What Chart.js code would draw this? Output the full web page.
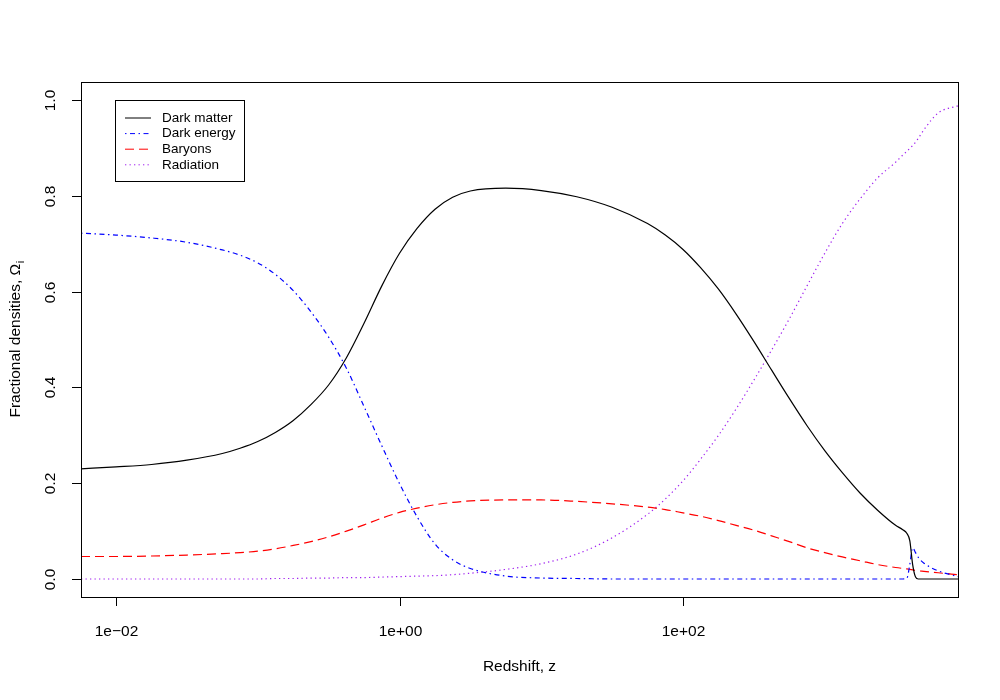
<!DOCTYPE html>
<html>
<head>
<meta charset="utf-8">
<script src="https://cdn.jsdelivr.net/npm/chart.js@4"></script>
<style>
  body { margin: 0; background: #fff; }
  canvas { display: block; }
</style>
</head>
<body>
<canvas id="myChart" width="1000" height="700"></canvas>
<script>
// redshift values (log spaced)
var redshift = [0.00566, 0.01, 0.0178, 0.0316, 0.0562, 0.075, 0.1, 0.133, 0.178, 0.237,
  0.316, 0.422, 0.562, 0.75, 1, 1.33, 1.78, 2.37, 3.16, 5.62,
  10, 17.8, 31.6, 56.2, 75, 100, 133, 178, 237, 316,
  422, 562, 750, 1000, 1330, 1780, 2370, 3160, 3550, 3800,
  3980, 4170, 4370, 4570, 5010, 6310, 8710];

var darkMatter = [0.230, 0.234, 0.239, 0.248, 0.262, 0.273, 0.287, 0.306, 0.331, 0.364,
  0.405, 0.462, 0.534, 0.612, 0.680, 0.732, 0.772, 0.797, 0.810, 0.816,
  0.811, 0.798, 0.776, 0.742, 0.718, 0.688, 0.650, 0.605, 0.553, 0.496,
  0.436, 0.377, 0.320, 0.268, 0.222, 0.179, 0.143, 0.112, 0.103, 0.095,
  0.080, 0.030, 0.004, 0.0, 0.0, 0.0, 0.0];

var darkEnergy = [0.722, 0.718, 0.712, 0.703, 0.687, 0.676, 0.660, 0.636, 0.602, 0.558,
  0.505, 0.440, 0.360, 0.278, 0.199, 0.130, 0.073, 0.040, 0.022, 0.006,
  0.002, 0.001, 0.0, 0.0, 0.0, 0.0, 0.0, 0.0, 0.0, 0.0,
  0.0, 0.0, 0.0, 0.0, 0.0, 0.0, 0.0, 0.0, 0.0, 0.002,
  0.030, 0.065, 0.055, 0.045, 0.033, 0.017, 0.005];

var baryons = [0.047, 0.047, 0.048, 0.050, 0.053, 0.055, 0.058, 0.063, 0.070, 0.078,
  0.088, 0.100, 0.113, 0.127, 0.139, 0.148, 0.155, 0.160, 0.163, 0.165,
  0.165, 0.162, 0.157, 0.150, 0.145, 0.138, 0.131, 0.122, 0.112, 0.102,
  0.090, 0.078, 0.065, 0.055, 0.046, 0.038, 0.030, 0.024, 0.022, 0.021,
  0.020, 0.019, 0.018, 0.017, 0.016, 0.013, 0.009];

var radiation = [0.0, 0.0, 0.0, 0.0, 0.0, 0.0, 0.0, 0.001, 0.001, 0.002,
  0.002, 0.003, 0.003, 0.004, 0.005, 0.006, 0.007, 0.009, 0.012, 0.020,
  0.032, 0.052, 0.086, 0.135, 0.167, 0.205, 0.250, 0.300, 0.355, 0.415,
  0.478, 0.543, 0.612, 0.680, 0.742, 0.794, 0.838, 0.870, 0.885, 0.893,
  0.899, 0.905, 0.912, 0.920, 0.938, 0.973, 0.988];

var xTicks = [0.01, 1, 100];
var xTickLabels = ['1e\u221202', '1e+00', '1e+02'];
var yTicks = [0, 0.2, 0.4, 0.6, 0.8, 1.0];
var yTickLabels = ['0.0', '0.2', '0.4', '0.6', '0.8', '1.0'];

var seriesNames = ['Dark matter', 'Dark energy', 'Baryons', 'Radiation'];
var seriesColors = ['#000000', '#0000ff', '#ff0000', '#a020f0'];
var seriesDash = [[], [1.5, 3.5, 5, 3.5], [9, 5], [1.3, 3.2]];
var seriesValues = [darkMatter, darkEnergy, baryons, radiation];

function toPoints(vals) {
  return vals.map(function(v, i) { return { x: redshift[i], y: v }; });
}

var FONT = '"Liberation Sans", Arial, Helvetica, sans-serif';

// draws the R style box, axes, labels and legend
var baseAxes = {
  id: 'baseAxes',
  afterDraw: function(chart) {
    var ctx = chart.ctx;
    var a = chart.chartArea;
    var xs = chart.scales.x, ys = chart.scales.y;
    ctx.save();
    ctx.strokeStyle = '#000';
    ctx.lineWidth = 1;
    ctx.setLineDash([]);
    ctx.strokeRect(Math.round(a.left) + 0.5, Math.round(a.top) + 0.5,
      Math.round(a.right - a.left), Math.round(a.bottom - a.top));

    ctx.fillStyle = '#000';
    ctx.font = '15.5px ' + FONT;

    // x axis
    ctx.textAlign = 'center';
    ctx.textBaseline = 'middle';
    xTicks.forEach(function(t, i) {
      var px = Math.round(xs.getPixelForValue(t)) + 0.5;
      ctx.beginPath();
      ctx.moveTo(px, a.bottom);
      ctx.lineTo(px, a.bottom + 9);
      ctx.stroke();
      ctx.fillText(xTickLabels[i], px, 632);
    });
    ctx.fillText('Redshift, z', (a.left + a.right) / 2, 667);

    // y axis
    yTicks.forEach(function(t, i) {
      var py = Math.round(ys.getPixelForValue(t)) + 0.5;
      ctx.beginPath();
      ctx.moveTo(a.left, py);
      ctx.lineTo(a.left - 9, py);
      ctx.stroke();
      ctx.save();
      ctx.translate(51, py);
      ctx.rotate(-Math.PI / 2);
      ctx.fillText(yTickLabels[i], 0, 0);
      ctx.restore();
    });

    // y title with subscript
    ctx.save();
    ctx.translate(16, (a.top + a.bottom) / 2);
    ctx.rotate(-Math.PI / 2);
    var main = 'Fractional densities, \u03A9';
    ctx.font = '15.5px ' + FONT;
    var w1 = ctx.measureText(main).width;
    ctx.font = '11px ' + FONT;
    var w2 = ctx.measureText('i').width;
    var start = -(w1 + w2) / 2;
    ctx.textAlign = 'left';
    ctx.font = '15.5px ' + FONT;
    ctx.fillText(main, start, 0);
    ctx.font = '11px ' + FONT;
    ctx.fillText('i', start + w1 + 0.5, 5);
    ctx.restore();

    // legend
    ctx.strokeRect(115.5, 100.5, 129, 81);
    ctx.font = '13.5px ' + FONT;
    ctx.textAlign = 'left';
    seriesNames.forEach(function(name, i) {
      var yy = 118 + i * 15.6;
      ctx.strokeStyle = seriesColors[i];
      ctx.setLineDash(seriesDash[i]);
      ctx.beginPath();
      ctx.moveTo(125, yy);
      ctx.lineTo(151, yy);
      ctx.stroke();
      ctx.setLineDash([]);
      ctx.fillStyle = '#000';
      ctx.fillText(name, 162, yy);
    });
    ctx.restore();
  }
};

var ctx = document.getElementById('myChart').getContext('2d');
var myChart = new Chart(ctx, {
  type: 'line',
  data: {
    datasets: seriesNames.map(function(name, i) {
      return {
        label: name,
        data: toPoints(seriesValues[i]),
        borderColor: seriesColors[i],
        borderWidth: 1.2,
        borderDash: seriesDash[i],
        pointRadius: 0,
        fill: false,
        cubicInterpolationMode: 'monotone'
      };
    })
  },
  options: {
    responsive: false,
    animation: false,
    devicePixelRatio: 1,
    layout: { padding: { left: 81, right: 42, top: 82, bottom: 103 } },
    plugins: { legend: { display: false }, tooltip: { enabled: false } },
    scales: {
      x: { type: 'logarithmic', min: 0.00566, max: 8710, display: false },
      y: { type: 'linear', min: -0.0376, max: 1.0376, display: false }
    }
  },
  plugins: [baseAxes]
});
</script>
</body>
</html>
